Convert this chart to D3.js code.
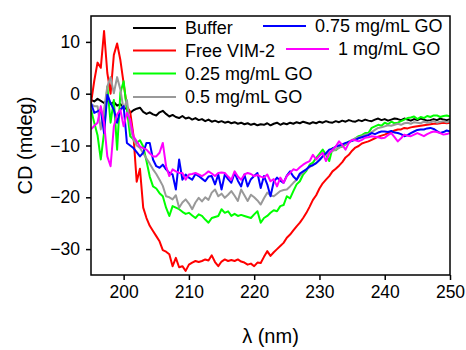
<!DOCTYPE html>
<html>
<head>
<meta charset="utf-8">
<script src="https://cdn.jsdelivr.net/npm/d3@7"></script>
<style>
  body { margin: 0; background: #fff; }
  svg text { font-family: "Liberation Sans", Arial, sans-serif; fill: #000; }
</style>
</head>
<body>
<div id="chart"></div>
<script>
// wavelength grid, 0.5 nm steps from 195 to 250
var wavelength = d3.range(0, 111).map(function (i) { return 195 + i * 0.5; });

var xTicks = [200, 210, 220, 230, 240, 250];
var yTicks = [-30, -20, -10, 0, 10];

var seriesNames = ["Buffer", "Free VIM-2", "0.25 mg/mL GO", "0.5 mg/mL GO", "0.75 mg/mL GO", "1 mg/mL GO"];
var seriesColors = ["#000000", "#ff0000", "#00ff00", "#999999", "#0000ff", "#ff00ff"];

var buffer = [
  -1.2, -1.5, -1.0, -1.4, -1.8, -1.3, -2.0, -1.6, -2.3, -2.0,
  -2.6, -3.0, -3.7, -3.2, -2.9, -2.7, -3.5, -3.9, -3.6, -4.0,
  -4.2, -3.6, -3.3, -3.9, -4.4, -4.1, -4.5, -4.7, -4.3, -4.8,
  -4.6, -5.0, -4.7, -5.1, -4.9, -5.3, -5.0, -5.4, -5.2, -5.5,
  -5.3, -5.6, -5.4, -5.7, -5.5, -5.8, -5.6, -5.9, -5.7, -6.0,
  -5.8, -6.1, -5.9, -6.0, -5.7, -6.1, -5.8, -5.6, -6.0, -5.7,
  -5.9, -5.6, -5.8, -5.5, -5.7, -5.4, -5.6, -5.8, -5.5, -5.7,
  -5.4, -5.6, -5.3, -5.5, -5.6, -5.3, -5.5, -5.2, -5.4, -5.1,
  -5.3, -5.4, -5.1, -5.3, -5.0, -5.2, -5.3, -5.0, -4.8, -5.1,
  -4.9, -5.2, -5.0, -4.8, -4.9, -5.1, -4.8, -5.0, -5.2, -4.9,
  -5.1, -4.8, -5.0, -5.2, -5.1, -4.9, -5.1, -4.8, -5.0, -5.1,
  -4.9
];
var freeVim2 = [
  -1.8, 2.5, 6.0, 5.0, 12.1, 4.0, 0.0, 7.5, 9.7, 6.5,
  2.0, -2.5, -3.5, -8.0, -17.0, -14.5, -22.0, -24.0, -25.5, -26.5,
  -27.5, -28.5, -30.2, -30.5, -31.0, -33.3, -31.7, -33.5, -33.3, -34.2,
  -33.0, -32.6, -32.3, -32.5, -32.3, -32.0, -32.2, -31.2, -32.5, -33.3,
  -32.4, -32.0, -32.3, -32.1, -32.3, -32.0, -32.4, -32.6, -33.0, -32.8,
  -33.3, -32.6, -32.7, -31.5, -30.4, -31.3, -30.6, -30.0, -29.4, -28.8,
  -27.8, -27.2, -26.4, -25.6, -24.9, -24.0, -23.0, -21.8, -20.5, -19.6,
  -18.3, -17.3, -16.6, -15.9, -15.0, -14.5, -13.9, -13.2, -12.3, -11.8,
  -11.0, -10.4, -10.1, -9.6, -9.4, -9.2, -8.9, -8.6, -8.3, -8.1,
  -7.9, -7.6, -7.4, -7.1, -6.9, -6.9, -6.6, -6.7, -6.5, -6.4,
  -6.3, -6.2, -6.1, -6.0, -5.9, -5.8, -5.8, -5.7, -5.6, -5.7,
  -5.6
];
var go025 = [
  -3.1, -5.6, -8.0, -12.7, -7.5, 1.4, -5.6, -1.2, -10.8, 0.2,
  2.4, -3.1, -8.2, -8.8, -9.5, -9.0, -10.2, -13.0, -16.0, -17.9,
  -18.3, -19.2, -19.8, -22.0, -23.6, -21.7, -22.0, -22.3, -22.8, -23.2,
  -23.0, -23.5, -24.0, -23.3, -23.6, -24.3, -24.9, -24.0, -23.8, -23.6,
  -22.3, -23.0, -22.7, -23.6, -23.2, -23.6, -23.4, -23.6, -23.8, -24.0,
  -23.3, -22.7, -24.9, -24.0, -23.6, -23.0, -22.5, -22.7, -21.7, -21.5,
  -19.8, -20.2, -18.8, -17.5, -16.9, -15.6, -14.9, -13.7, -13.3, -12.4,
  -11.6, -10.8, -11.8, -13.0, -10.5, -10.9, -10.4, -10.2, -9.8, -9.2,
  -9.0, -8.6, -8.2, -8.0, -7.6, -7.6, -6.6, -6.3, -6.0, -6.2,
  -5.6, -5.9, -5.4, -5.7, -5.6, -5.3, -5.0, -4.7, -4.6, -4.4,
  -4.9, -4.5, -4.7, -4.3, -4.5, -4.2, -4.2, -4.5, -4.3, -4.2,
  -4.4
];
var go05 = [
  -2.0, -2.4, -2.4, -6.9, -3.1, 1.4, 3.2, 0.1, 3.2, 0.8,
  -3.1, -1.2, -6.3, -8.9, -10.0, -10.5, -11.5, -12.5, -13.5, -14.6,
  -15.5, -16.6, -17.8, -19.8, -20.0, -20.4, -19.6, -22.0, -21.0, -20.4,
  -21.2, -22.3, -21.0, -20.1, -20.8, -20.0, -20.5, -19.1, -18.5, -19.8,
  -19.3, -20.1, -19.5, -18.8, -19.7, -20.7, -18.5, -19.6, -20.7, -19.5,
  -20.0, -20.6, -21.4, -20.2, -19.1, -19.6, -19.8, -19.3, -18.8, -18.6,
  -18.5, -17.9, -17.2, -16.6, -15.8, -15.2, -14.6, -14.2, -13.7, -13.4,
  -12.8, -12.1, -11.8, -11.4, -11.1, -10.8, -10.4, -10.1, -9.7, -9.4,
  -9.0, -8.6, -8.4, -8.2, -7.9, -7.8, -7.4, -7.0, -6.6, -6.5,
  -6.3, -6.1, -6.2, -6.0, -5.8, -6.0, -5.7, -5.6, -5.8, -5.5,
  -5.6, -5.7, -5.4, -5.6, -5.5, -5.3, -5.6, -5.4, -5.3, -5.5,
  -5.3
];
var go075 = [
  -1.8, -3.7, -3.4, -3.1, -7.6, -0.2, -1.8, -3.1, -5.6, -3.1,
  -2.4, -9.5, -10.0, -10.5, -11.3, -12.1, -11.4, -9.5, -9.5, -12.7,
  -14.0, -14.3, -13.7, -14.6, -15.3, -15.6, -18.5, -12.7, -16.6, -15.6,
  -16.2, -16.6, -15.5, -15.9, -16.4, -16.9, -16.0, -15.9, -17.5, -15.6,
  -18.5, -15.6, -16.5, -17.2, -15.3, -16.8, -17.9, -15.6, -17.9, -16.5,
  -15.9, -15.3, -18.2, -15.9, -17.5, -19.8, -17.0, -16.2, -16.8, -17.2,
  -15.8, -15.0, -16.0, -16.6, -15.4, -15.0, -14.6, -14.0, -13.8, -13.4,
  -12.8, -12.1, -11.5, -10.8, -10.6, -10.2, -10.0, -9.8, -9.5, -9.3,
  -9.1, -8.9, -8.6, -8.4, -8.2, -8.0, -7.6, -7.8, -7.5, -7.3,
  -7.3, -7.4, -7.2, -7.5, -7.6, -7.8, -8.2, -8.0, -7.6, -7.3,
  -7.0, -6.9, -6.9, -6.7, -6.6, -6.8, -7.2, -7.6, -7.4, -7.1,
  -7.3
];
var go1 = [
  -6.9, -6.2, -5.6, -2.4, -5.6, -12.1, -14.0, -6.3, -4.0, -3.1,
  -6.3, -3.7, -5.0, -8.2, -9.2, -10.2, -10.5, -10.8, -11.5, -12.1,
  -12.1, -11.4, -9.5, -14.0, -15.9, -14.6, -15.0, -15.3, -15.3, -16.6,
  -15.6, -15.5, -15.3, -15.6, -15.9, -15.5, -15.0, -15.4, -15.9, -15.3,
  -15.2, -15.3, -16.0, -16.6, -15.0, -16.0, -16.6, -15.6, -15.3, -15.5,
  -15.9, -15.7, -16.0, -16.2, -15.6, -16.9, -16.5, -17.9, -16.2, -17.2,
  -15.9, -15.3, -14.6, -14.8, -14.2, -13.7, -13.3, -13.0, -11.8, -12.7,
  -12.0, -11.4, -13.0, -11.5, -10.8, -10.2, -9.2, -9.9, -10.8, -9.5,
  -8.9, -9.0, -9.2, -8.9, -8.5, -8.4, -8.2, -8.3, -8.4, -8.6,
  -8.5, -8.0, -7.6, -8.4, -9.2, -8.6, -7.9, -8.1, -8.2, -7.9,
  -7.6, -7.9, -8.2, -7.8, -7.5, -7.3, -7.4, -7.6, -7.9, -7.8,
  -7.6
];

var seriesValues = [buffer, freeVim2, go025, go05, go075, go1];

var width = 466, height = 350,
  margin = { top: 16, right: 16, bottom: 75, left: 91 },
  plotW = width - margin.left - margin.right,
  plotH = height - margin.top - margin.bottom;

var svg = d3.select("#chart").append("svg")
  .attr("width", width)
  .attr("height", height);

var g = svg.append("g")
  .attr("transform", "translate(" + margin.left + "," + margin.top + ")");

var x = d3.scaleLinear().domain([195, 250]).range([0, plotW]);
var y = d3.scaleLinear().domain([-35, 15]).range([plotH, 0]);

// clip the traces to the frame
g.append("clipPath").attr("id", "clip")
  .append("rect").attr("width", plotW).attr("height", plotH);

var line = d3.line()
  .x(function (d) { return x(d[0]); })
  .y(function (d) { return y(d[1]); });

var traces = g.append("g").attr("clip-path", "url(#clip)");
seriesValues.forEach(function (vals, k) {
  traces.append("path")
    .datum(wavelength.map(function (w, i) { return [w, vals[i]]; }))
    .attr("fill", "none")
    .attr("stroke", seriesColors[k])
    .attr("stroke-width", 2)
    .attr("stroke-linejoin", "round")
    .attr("d", line);
});

// axes
var xAxis = d3.axisBottom(x).tickValues(xTicks).tickSize(5).tickPadding(6).tickFormat(d3.format("d"));
var yAxis = d3.axisLeft(y).tickValues(yTicks).tickSize(5).tickPadding(6).tickFormat(d3.format("d"));

var gx = g.append("g").attr("transform", "translate(0," + plotH + ")").call(xAxis);
var gy = g.append("g").call(yAxis);
[gx, gy].forEach(function (a) {
  a.select(".domain").remove();
  a.selectAll(".tick line").attr("stroke", "#000").attr("stroke-width", 1.5);
  a.selectAll(".tick text").style("font-size", "17.5px").attr("fill", "#000");
});

// frame
g.append("rect")
  .attr("width", plotW).attr("height", plotH)
  .attr("fill", "none").attr("stroke", "#000").attr("stroke-width", 1.5);

// axis titles
svg.append("text")
  .attr("transform", "translate(32," + (margin.top + plotH / 2) + ") rotate(-90)")
  .attr("text-anchor", "middle")
  .style("font-size", "20px")
  .text("CD (mdeg)");

svg.append("text")
  .attr("x", margin.left + plotW / 2)
  .attr("y", 343)
  .attr("text-anchor", "middle")
  .style("font-size", "20px")
  .text("\u03bb (nm)");

// legend: four entries on the left, two on the right
var legend = svg.append("g");
var legendPos = [
  { lx: 133, ty: 28 }, { lx: 133, ty: 50.5 }, { lx: 133, ty: 73.5 }, { lx: 133, ty: 97 },
  { lx: 263, ty: 26 }, { lx: 286, ty: 49 }
];
seriesNames.forEach(function (name, k) {
  var p = legendPos[k];
  legend.append("line")
    .attr("x1", p.lx).attr("x2", p.lx + 43)
    .attr("y1", p.ty).attr("y2", p.ty)
    .attr("stroke", seriesColors[k]).attr("stroke-width", 2);
  legend.append("text")
    .attr("x", p.lx + 52).attr("y", p.ty)
    .attr("dy", "0.35em")
    .style("font-size", "18px")
    .text(name);
});
</script>
</body>
</html>
